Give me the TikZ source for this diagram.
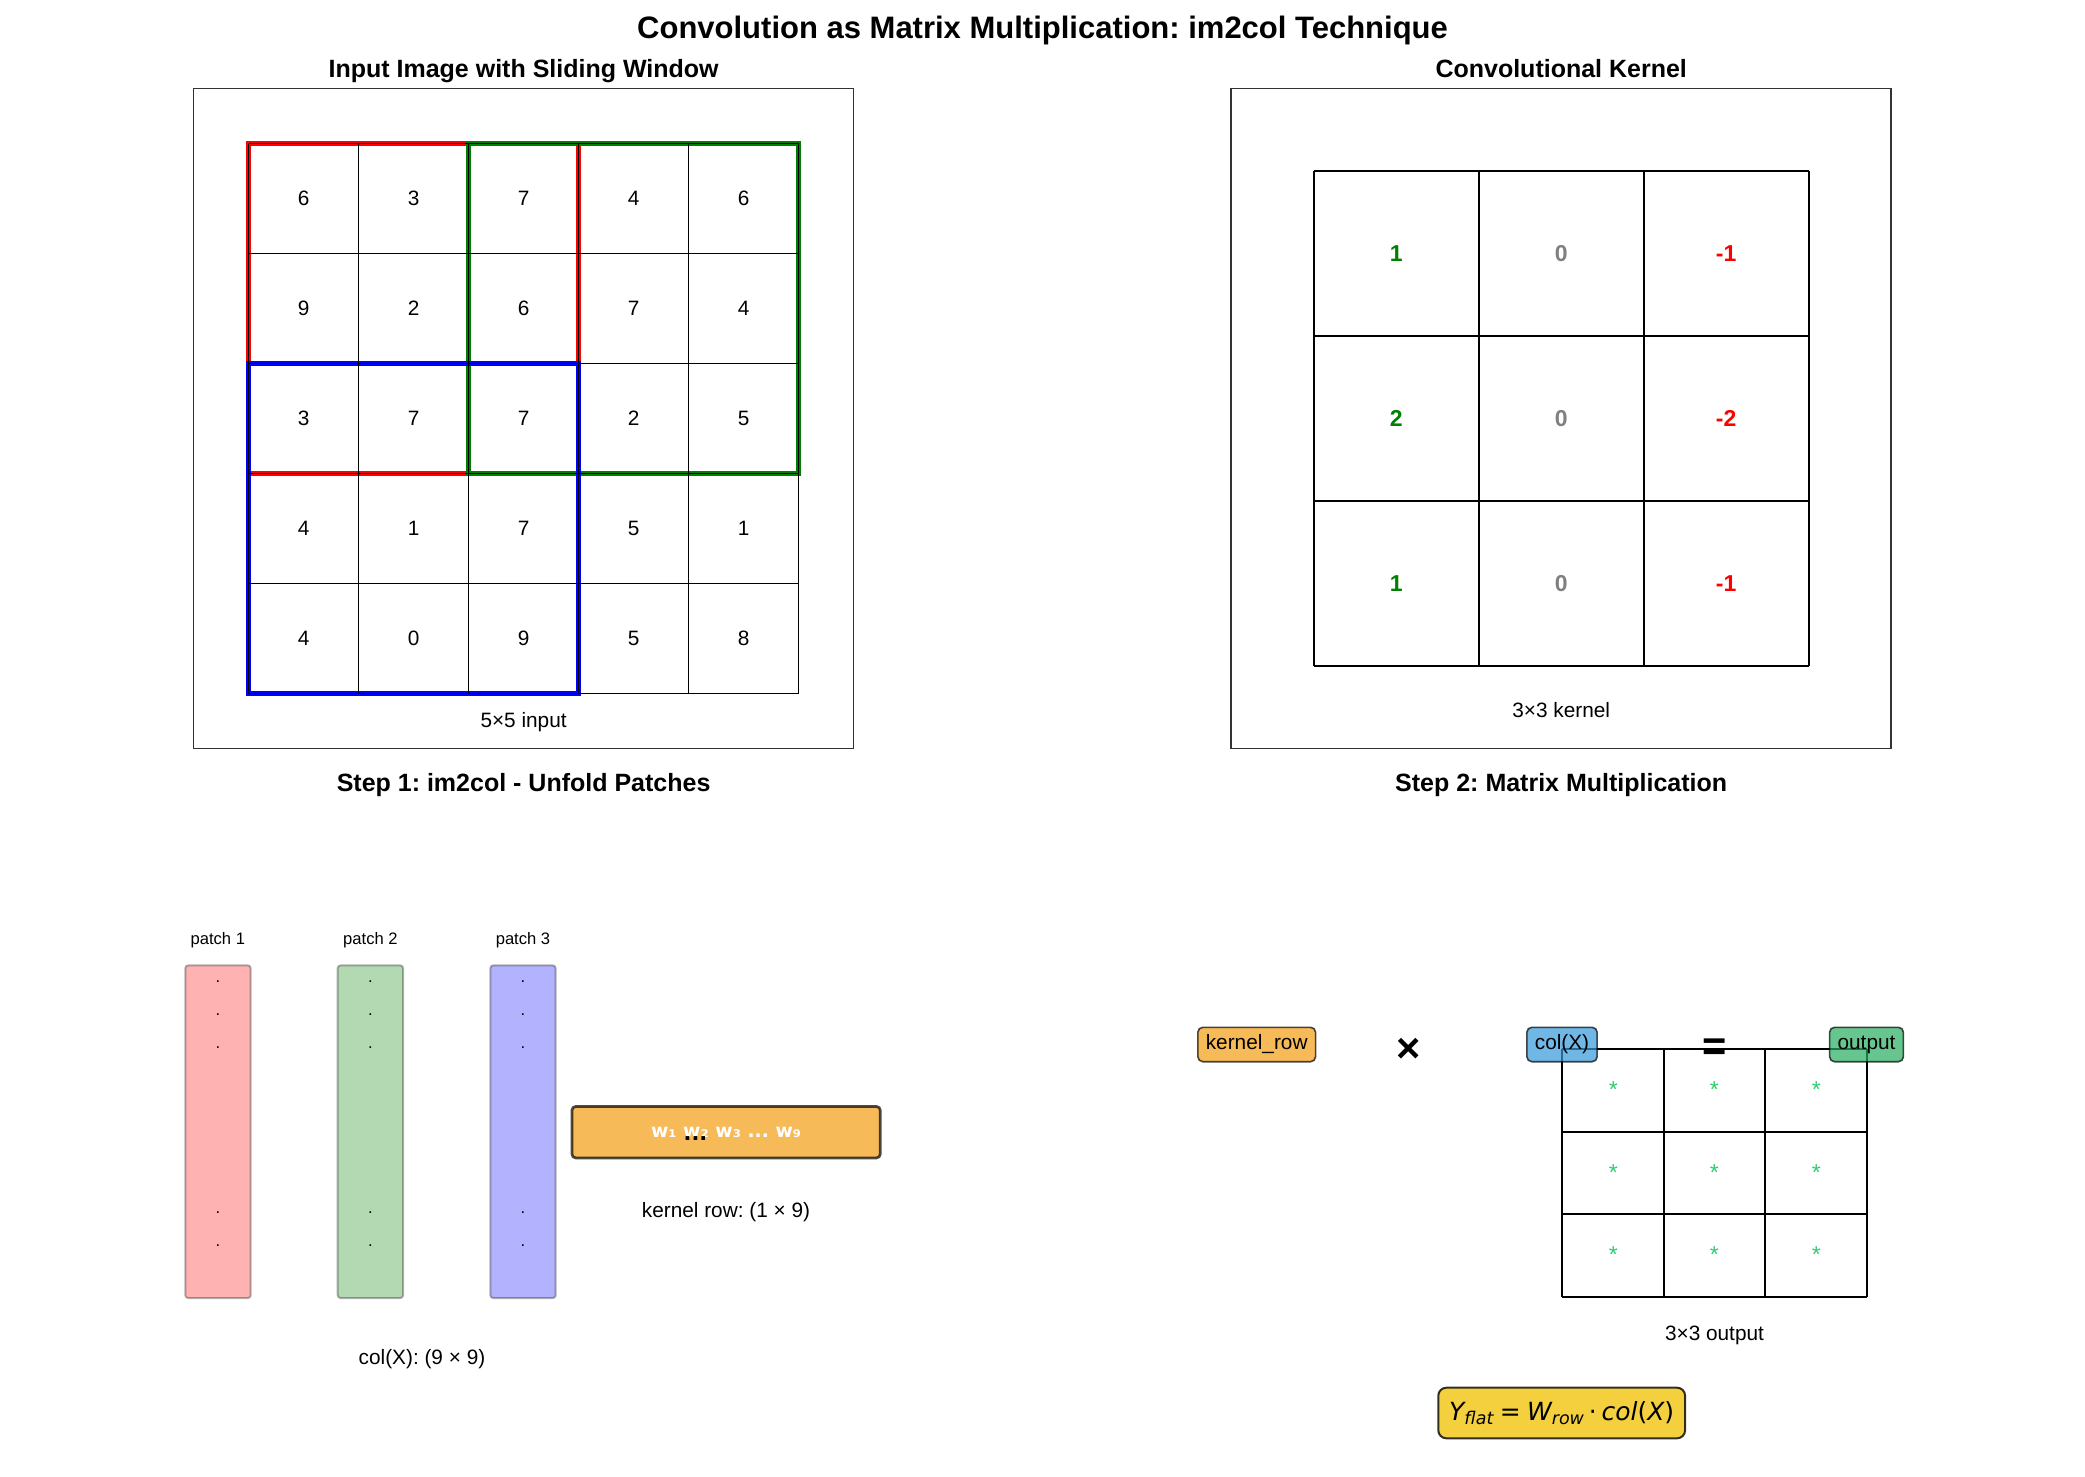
\documentclass[tikz,border=0pt]{standalone}
\usepackage{fontspec}
\setmainfont{Liberation Sans}
\newfontfamily\dejavu[BoldFont={DejaVu Sans Bold},ItalicFont={DejaVu Sans Oblique}]{DejaVu Sans}
\frenchspacing

\definecolor{winred}{RGB}{255,0,0}
\definecolor{wingreen}{RGB}{0,128,0}
\definecolor{winblue}{RGB}{0,0,255}
\definecolor{kgray}{RGB}{128,128,128}
\definecolor{boxorange}{RGB}{243,156,18}
\definecolor{boxblue}{RGB}{52,152,219}
\definecolor{boxgreen}{RGB}{39,174,96}
\definecolor{boxyellow}{RGB}{241,196,15}
\definecolor{stargreen}{RGB}{46,204,113}

\newcommand{\mtsub}[1]{\raisebox{-2.2pt}{\fontsize{8.75}{10}\selectfont\itshape #1}}

\tikzset{every picture/.style={line width=0.75pt}}
\tikzset{
  panel/.style={draw=black!80, line width=0.85pt},
  cellline/.style={draw=black, line width=0.5pt},
  kerline/.style={draw=black, line width=1.1pt},
  outline/.style={draw=black, line width=0.95pt},
  window/.style={line width=2.4pt},
  figtitle/.style={inner sep=0pt, font=\bfseries\fontsize{15.5}{18}\selectfont},
  subtitle/.style={inner sep=0pt, font=\bfseries\fontsize{12.5}{15}\selectfont},
  lbl/.style={inner sep=0pt, font=\fontsize{10.4}{12}\selectfont},
  smalllbl/.style={inner sep=0pt, font=\fontsize{8.3}{10}\selectfont},
  kval/.style={inner sep=0pt, font=\bfseries\fontsize{11.5}{14}\selectfont},
  opsym/.style={inner sep=0pt, font=\bfseries\fontsize{20.8}{24}\selectfont},
  starlbl/.style={inner sep=0pt, anchor=base, text=stargreen, font=\fontsize{11.5}{13}\selectfont},
  patchcol/.style={rounded corners=1.5pt, draw=black, draw opacity=0.3, fill opacity=0.3,
    line width=1pt, minimum width=32.7pt, minimum height=166.4pt, inner sep=0pt},
  wrow/.style={rounded corners=2pt, draw=black, draw opacity=0.7, fill=boxorange, fill opacity=0.7,
    text opacity=1, line width=1.35pt, minimum width=154.2pt, minimum height=25.8pt,
    text=white, font=\dejavu\bfseries\fontsize{9.4}{11}\selectfont},
  tagbox/.style={rounded corners=2.5pt, draw=black, draw opacity=0.7, fill opacity=0.7,
    text opacity=1, line width=0.8pt, inner xsep=4pt, inner ysep=0pt, minimum height=17.2pt,
    font=\fontsize{10.4}{12}\selectfont},
  eqbox/.style={rounded corners=4pt, draw=black, draw opacity=0.8, fill=boxyellow, fill opacity=0.8,
    text opacity=1, line width=1pt, minimum width=123.4pt, minimum height=25.3pt,
    font=\dejavu\fontsize{12.5}{15}\selectfont}
}

\begin{document}
\begin{tikzpicture}[x=0.5pt,y=0.5pt,yscale=-1,xscale=1]
\useasboundingbox (0,0) rectangle (2085,1477);

% Text Node
\node[figtitle] (title) at (1042.5,30) {Convolution as Matrix Multiplication: im2col Technique};
% Text Node
\node[subtitle] (intitle) at (523.6,71) {Input Image with Sliding Window};
% Text Node
\node[subtitle] (kertitle) at (1561.2,68.5) {Convolutional Kernel};

%Shape: Rectangle [input panel]
\draw[panel] (193.6,88.6) rectangle (853.6,748.6);
%Shape: Rectangle [sliding windows]
\draw[window, draw=winred] (248.6,143.6) rectangle (578.6,473.6);
\draw[window, draw=wingreen] (468.6,143.6) rectangle (798.6,473.6);
\draw[window, draw=winblue] (248.6,363.6) rectangle (578.6,693.6);
%Straight Lines [5x5 cells]
\foreach \i in {0,...,5} {
  \draw[cellline] (248.6+110*\i,143.6) -- (248.6+110*\i,693.6);
  \draw[cellline] (248.6,143.6+110*\i) -- (798.6,143.6+110*\i);
}
% Text Node [cell values]
\foreach \row [count=\r from 0] in {{6,3,7,4,6},{9,2,6,7,4},{3,7,7,2,5},{4,1,7,5,1},{4,0,9,5,8}} {
  \foreach \v [count=\c from 0] in \row {
    \node[lbl] (in-\r-\c) at (303.6+110*\c,198.6+110*\r) {\v};
  }
}
% Text Node
\node[lbl] (inlbl) at (523.6,722) {5×5 input};

%Shape: Rectangle [kernel panel]
\draw[panel] (1231.2,88.6) rectangle (1891.2,748.6);
%Straight Lines [3x3 kernel cells]
\foreach \i in {0,...,3} {
  \draw[kerline] (1313.7+165*\i,171.1) -- (1313.7+165*\i,666.1);
  \draw[kerline] (1313.7,171.1+165*\i) -- (1808.7,171.1+165*\i);
}
% Text Node [kernel values]
\foreach \row [count=\r from 0] in {{1/wingreen,0/kgray,-1/winred},{2/wingreen,0/kgray,-2/winred},{1/wingreen,0/kgray,-1/winred}} {
  \foreach \v/\kc [count=\c from 0] in \row {
    \node[kval, text=\kc] (ker-\r-\c) at (1396.2+165*\c,253.6+165*\r) {\v};
  }
}
% Text Node
\node[lbl] (kerlbl) at (1561.2,710) {3×3 kernel};

% Text Node
\node[subtitle] (step1) at (523.6,785.5) {Step 1: im2col - Unfold Patches};
% Text Node
\node[subtitle] (step2) at (1561.2,785.5) {Step 2: Matrix Multiplication};

%Shape: Rectangle [patch columns]
\node[patchcol, fill=winred] (p1) at (218,1131.7) {};
\node[patchcol, fill=wingreen] (p2) at (370.4,1131.7) {};
\node[patchcol, fill=winblue] (p3) at (523,1131.7) {};
% Text Node
\node[smalllbl] (lp1) at (217.8,940.5) {patch 1};
\node[smalllbl] (lp2) at (370.4,940.5) {patch 2};
\node[smalllbl] (lp3) at (523,940.5) {patch 3};
% Text Node [dots]
\foreach \px [count=\k] in {218,370.4,523} {
  \foreach \dy [count=\j] in {981.7,1015,1047.7,1212.7,1246} {
    \node[smalllbl, anchor=base] (dot-\k-\j) at (\px,\dy+0.8) {.};
  }
}
% Text Node
\node[lbl] (collbl) at (422,1359.5) {col(X): (9 × 9)};

%Shape: Rectangle [kernel row]
\node[wrow] (wrow) at (726.1,1132.2) {w₁ w₂ w₃ ... w₉};
% Text Node
\node[inner sep=0pt, anchor=base, font=\dejavu\bfseries\fontsize{10.4}{12}\selectfont] (gap) at (695.5,1140.5) {...};
% Text Node
\node[lbl] (wrowlbl) at (726,1212) {kernel row: (1 × 9)};

%Straight Lines [3x3 output cells]
\foreach \gx in {1561.7,1664,1765.3,1867} {
  \draw[outline] (\gx,1049) -- (\gx,1296.7);
}
\foreach \gy in {1049,1131.7,1213.7,1296.7} {
  \draw[outline] (1561.7,\gy) -- (1867,\gy);
}
% Text Node [stars]
\foreach \sx [count=\c] in {1613.3,1714.3,1816.3} {
  \foreach \sy [count=\r] in {1097,1180.3,1262} {
    \node[starlbl] (star-\r-\c) at (\sx,\sy) {*};
  }
}

% Text Node [tags]
\node[tagbox, fill=boxorange] (krow) at (1256.7,1044.5) {kernel\_row};
\node[opsym] (times) at (1408.8,1050.5) {×};
\node[tagbox, fill=boxblue] (colx) at (1562,1044.5) {col(X)};
\node[opsym] (equals) at (1714.8,1049.5) {=};
\node[tagbox, fill=boxgreen] (outtag) at (1866.5,1044.5) {output};
% Text Node
\node[lbl] (outlbl) at (1714.5,1335) {3×3 output};

% Text Node [formula]
\node[eqbox] (formula) at (1561.7,1413) {\itshape Y\mtsub{flat}\hspace{3.2pt}\upshape=\hspace{3.2pt}\itshape W\mtsub{row}\hspace{2.4pt}\upshape·\hspace{2.4pt}\itshape col\upshape(\itshape X\upshape)};

\end{tikzpicture}
\end{document}
